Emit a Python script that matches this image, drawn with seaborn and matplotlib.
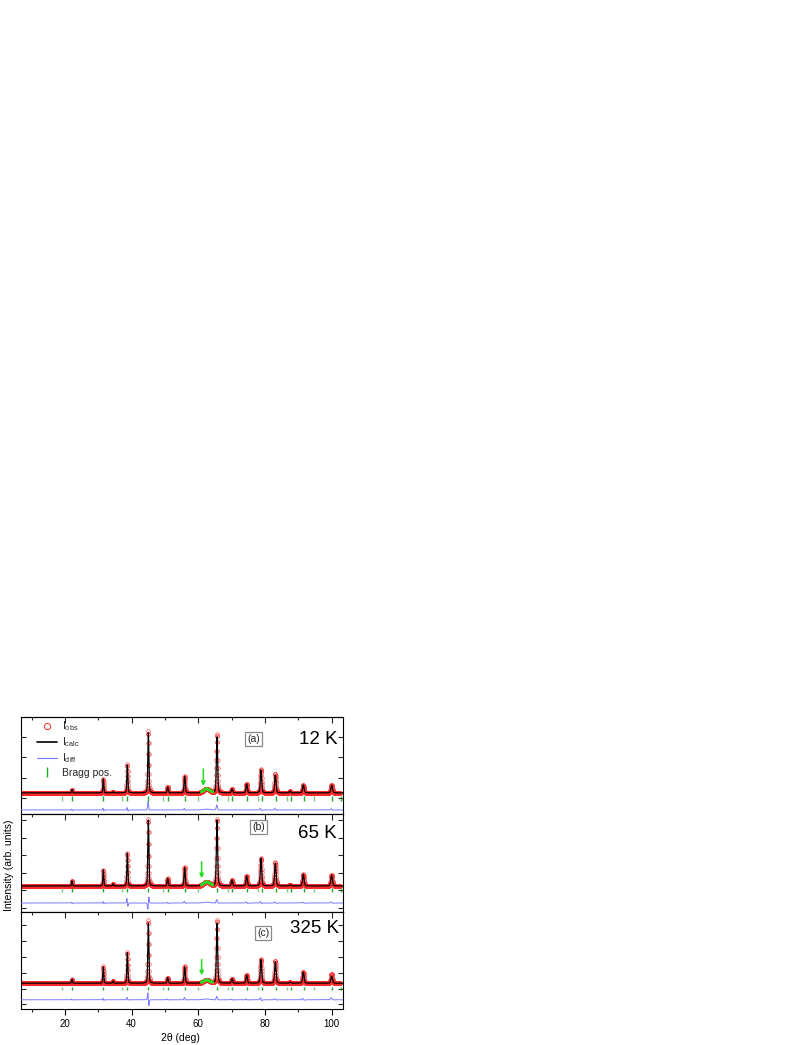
import numpy as np
import matplotlib
matplotlib.use("Agg")
import matplotlib.pyplot as plt
import seaborn as sns
from matplotlib.ticker import MultipleLocator
from matplotlib.lines import Line2D

# ---------------- data ----------------
temperatures = ["12 K", "65 K", "325 K"]
panel_tags = ["(a)", "(b)", "(c)"]

peak_pos = [22.1, 31.5, 34.4, 38.7, 45.0, 50.8, 55.9, 65.6, 70.1, 74.5,
            78.8, 83.1, 87.5, 91.5, 100.0]
calc_12K = [163, 690, 50, 1380, 2960, 296, 823, 2760, 197, 444, 1133, 887, 84, 394, 380]
calc_65K = [286, 914, 114, 1884, 3770, 440, 1068, 3770, 343, 571, 1582, 1296, 57, 668, 628]
calc_325K = [248, 1037, 143, 1925, 3770, 354, 1037, 3770, 292, 515, 1490, 1348, 62, 702, 453]
obs_extra_12K = [0, 0, 0, 20, 110, 0, 20, 150, 0, 0, 20, 50, 0, 0, 20]
obs_extra_65K = [0, 0, 0, 20, 80, 0, 20, 80, 0, 0, 30, 60, 0, 0, 20]
obs_extra_325K = [0, 20, 0, 60, 200, 0, 60, 200, 0, 0, 40, 60, 0, 20, 150]
background = [250, 230, 330]

impurity_pos = 62.5
impurity_height = [197, 228, 205]

diff_pos_12K = [22.1, 31.5, 38.7, 45.0, 55.9, 62.5, 65.6, 78.8, 83.1, 100.0]
diff_amp_12K = [0, 30, 50, 380, 50, 40, 220, 40, 40, 30]
diff_der_12K = [40, 60, 80, 120, 40, 0, 60, 50, 40, 30]
diff_pos_65K = [22.1, 31.5, 38.7, 45.0, 50.8, 55.9, 62.5, 65.6, 74.5, 78.8, 83.1, 91.5, 100.0]
diff_amp_65K = [0, 30, 60, 0, 0, 60, 50, 170, 30, 40, 40, 30, 40]
diff_der_65K = [40, 60, 220, -350, 40, 50, 0, 60, 40, 60, 40, 30, 30]
diff_pos_325K = [22.1, 31.5, 38.7, 45.0, 50.8, 55.9, 62.5, 65.6, 70.1, 74.5, 78.8, 83.1, 91.5, 100.0]
diff_amp_325K = [30, 40, 120, 50, 30, 120, 50, 190, 30, 40, 60, 50, 50, 120]
diff_der_325K = [30, 60, 60, 400, 30, 50, 0, 60, 30, 30, 90, 40, 50, 40]
diff_offset = [-590, -743, -708]

bragg_main = [22.1, 31.5, 38.7, 45.0, 50.8, 56.0, 65.6, 70.2, 74.6, 79.0, 83.2,
              87.7, 91.6, 100.1, 102.7]
bragg_weak = [19.0, 37.0, 49.5, 59.8, 69.0, 78.0, 86.5, 94.8]
bragg_center = [-35, 0, 0]

arrow_x = [61.5, 61.0, 61.0]
arrow_top = [1430, 1616, 1820]
arrow_tip = [590, 668, 826]

ylims = [(-790, 3990), (-1257, 4343), (-1286, 4800)]
yticks = [[0, 1000, 2000, 3000], [-1000, 0, 1000, 2000, 3000, 4000],
          [-1000, 0, 1000, 2000, 3000, 4000]]

calc_heights = [calc_12K, calc_65K, calc_325K]
obs_extras = [obs_extra_12K, obs_extra_65K, obs_extra_325K]
diff_sets = [(diff_pos_12K, diff_amp_12K, diff_der_12K),
             (diff_pos_65K, diff_amp_65K, diff_der_65K),
             (diff_pos_325K, diff_amp_325K, diff_der_325K)]

# ---------------- styling ----------------
sns.set_theme(style="ticks")
plt.rcParams["font.family"] = ["Liberation Sans", "DejaVu Sans"]
plt.rcParams["mathtext.fontset"] = "custom"
plt.rcParams["mathtext.rm"] = "Liberation Sans"
plt.rcParams["mathtext.it"] = "Liberation Sans:italic"
plt.rcParams["axes.linewidth"] = 0.8

W, H = 808, 1045
fig = plt.figure(figsize=(W / 100, H / 100), dpi=100)
fig.patch.set_facecolor("white")

panel_px = [(717, 814), (814, 912), (912, 1009)]
xl, xr = 21, 343

tt = np.arange(6.8, 103.4, 0.02)
tt_obs = np.arange(6.8, 102.6, 0.05)


def fwhm(p):
    return 0.28 + 0.0035 * (p - 20)


def pv(x, p, w):
    d2 = 4 * (x - p) ** 2 / w ** 2
    return 0.7 * np.exp(-np.log(2) * d2) + 0.3 / (1 + d2)


def calc_profile(x, i, extra=None):
    y = np.full_like(x, background[i], dtype=float)
    for k, (p, h) in enumerate(zip(peak_pos, calc_heights[i])):
        hh = h + (extra[k] if extra is not None else 0)
        y += hh * pv(x, p, fwhm(p))
    y += impurity_height[i] * np.exp(-4 * np.log(2) * (x - impurity_pos) ** 2 / 2.2 ** 2)
    return y


def diff_profile(x, i):
    y = np.full_like(x, diff_offset[i], dtype=float)
    for p, a, d in zip(*diff_sets[i]):
        w = 2.2 if abs(p - impurity_pos) < 0.01 else fwhm(p)
        s = w / 2.355
        g = np.exp(-(x - p) ** 2 / (2 * s ** 2))
        y += a * g + d * (-(x - p) / s) * np.exp(0.5) * g
    return y


green = "#2aa52a"
green_weak = "#86c986"

for i in range(3):
    top, bot = panel_px[i]
    ax = fig.add_axes([xl / W, 1 - bot / H, (xr - xl) / W, (bot - top) / H])

    obs = calc_profile(tt_obs, i, obs_extras[i])
    calc = calc_profile(tt, i)
    diff = diff_profile(tt, i)

    ax.plot(tt_obs, obs, ls="none", marker="o", ms=2.6, mfc="none",
            mec="#ff2a2a", mew=0.5, alpha=0.8, zorder=2)
    sns.lineplot(x=tt, y=calc, ax=ax, color="black", lw=0.9,
                 estimator=None, sort=False, zorder=3)
    sns.lineplot(x=tt, y=diff, ax=ax, color="#7a7aff", lw=0.7,
                 estimator=None, sort=False, zorder=3)
    m = (tt >= 60.9) & (tt <= 64.3)
    ax.plot(tt[m], calc[m], color="#22dd22", lw=2.2, solid_capstyle="round", zorder=4)

    c = bragg_center[i]
    ax.vlines(bragg_main, c - 110, c + 110, color=green, lw=1.0, zorder=3)
    ax.vlines(bragg_weak, c - 110, c + 110, color=green_weak, lw=1.0, zorder=3)

    ax.annotate("", xy=(arrow_x[i], arrow_tip[i]), xytext=(arrow_x[i], arrow_top[i]),
                arrowprops=dict(arrowstyle="-|>", color="#22dd22", lw=1.1,
                                mutation_scale=6, shrinkA=0, shrinkB=0), zorder=5)

    ax.set_xlim(6.8, 103.4)
    ax.set_ylim(*ylims[i])
    ax.set_yticks(yticks[i])
    ax.set_xlabel("")
    ax.set_ylabel("")
    for sp in ax.spines.values():
        sp.set_visible(True)
        sp.set_color("black")
        sp.set_linewidth(0.8)

    ax.xaxis.set_major_locator(MultipleLocator(20))
    ax.xaxis.set_minor_locator(MultipleLocator(10))
    ax.tick_params(axis="x", which="major", direction="out", length=4, width=0.8,
                   bottom=(i == 2), top=False, labelbottom=(i == 2),
                   labelsize=7, pad=3, colors="black")
    ax.tick_params(axis="x", which="minor", direction="out", length=2.5, width=0.8,
                   bottom=(i == 2), top=False)
    sec = ax.secondary_xaxis("top")
    sec.xaxis.set_major_locator(MultipleLocator(20))
    sec.xaxis.set_minor_locator(MultipleLocator(10))
    sec.tick_params(axis="x", which="major", direction="in", length=4, width=0.8,
                    labeltop=False)
    sec.tick_params(axis="x", which="minor", direction="in", length=2.5, width=0.8)
    sec.spines["top"].set_linewidth(0.8)

    ax.tick_params(axis="y", which="both", direction="in", length=3.5, width=0.8,
                   left=True, right=True, labelleft=False, labelright=False)

    tx = {0: (0.922, 0.773), 1: (0.919, 0.806), 2: (0.913, 0.825)}[i]
    bx = {0: (0.722, 0.773), 1: (0.738, 0.867), 2: (0.752, 0.780)}[i]
    ax.text(*tx, temperatures[i], transform=ax.transAxes, ha="center", va="center",
            fontsize=13.5, color="black")
    ax.text(*bx, panel_tags[i], transform=ax.transAxes, ha="center", va="center",
            fontsize=7.5, color="#222222",
            bbox=dict(boxstyle="square,pad=0.18", fc="white", ec="#8a8a8a", lw=0.9))

    if i == 0:
        handles = [
            Line2D([], [], ls="none", marker="o", mfc="none", mec="#ff2a2a", ms=4.5, mew=0.7),
            Line2D([], [], color="black", lw=1.2),
            Line2D([], [], color="#7a7aff", lw=0.8),
            Line2D([], [], ls="none", marker="|", color=green, ms=7, mew=1.0),
        ]
        labels = [r"I$_{\rm obs}$", r"I$_{\rm calc}$", r"I$_{\rm diff}$", "Bragg pos."]
        ax.legend(handles, labels, loc="upper left", bbox_to_anchor=(0.05, 0.975),
                  frameon=False, fontsize=7.5, handlelength=1.9, handletextpad=0.5,
                  labelspacing=0.22, borderpad=0, borderaxespad=0)

fig.text(9 / W, 1 - 865 / H, "Intensity (arb. units)", rotation=90,
         ha="center", va="center", fontsize=7.5, color="black")
fig.text(180 / W, 1 - 1038 / H, "2θ (deg)", ha="center", va="center",
         fontsize=7.5, color="black")

fig.savefig("out.png", dpi=100, facecolor="white")
